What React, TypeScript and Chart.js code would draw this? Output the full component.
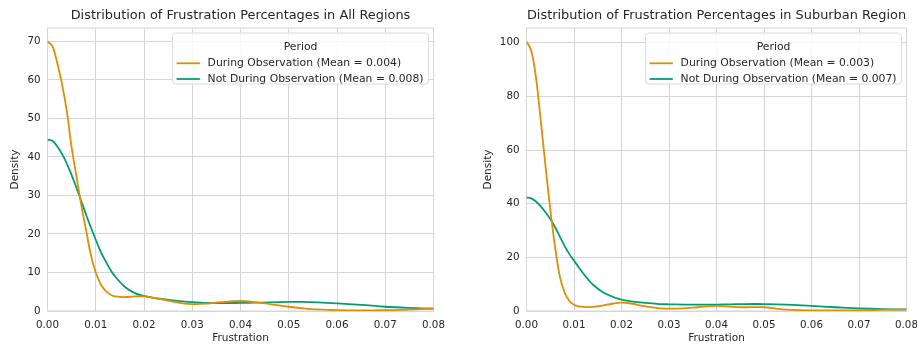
import React, { useEffect, useRef } from 'react';
import { Chart, registerables } from 'chart.js';

Chart.register(...registerables);

// ---- data ----
const FRUSTRATION = [
  0, 0.001, 0.002, 0.003, 0.004, 0.005, 0.006, 0.007, 0.008, 0.009, 0.010, 0.011, 0.012, 0.013, 0.014,
  0.016, 0.018, 0.020, 0.022, 0.025, 0.028, 0.030, 0.033, 0.036, 0.040, 0.043, 0.046, 0.050, 0.053,
  0.056, 0.060, 0.065, 0.070, 0.075, 0.080,
];

const ALL_DURING = [
  70, 68.8, 64.5, 59, 52, 42.5, 35, 27.5, 21, 14.5, 10, 7, 5.3, 4.3, 3.8,
  3.6, 3.8, 3.8, 3.4, 2.7, 2.0, 1.8, 1.9, 2.3, 2.6, 2.3, 1.8, 1.1, 0.7,
  0.4, 0.2, 0.15, 0.2, 0.35, 0.65,
];
const ALL_NOT_DURING = [
  44.5, 44.2, 42.8, 40.8, 38.3, 35.3, 32, 28.5, 25, 21.7, 18.5, 15.5, 13, 10.8, 9,
  6.3, 4.7, 3.9, 3.4, 2.9, 2.5, 2.3, 2.1, 2.05, 2.1, 2.15, 2.25, 2.35, 2.35,
  2.25, 2.0, 1.6, 1.1, 0.8, 0.6,
];
const SUB_DURING = [
  100.5, 97, 87, 71, 54, 38, 24, 13, 7, 3.8, 2.3, 1.7, 1.5, 1.45, 1.5,
  2.0, 2.7, 3.1, 2.8, 1.7, 1.0, 0.9, 1.0, 1.4, 1.9, 1.6, 1.4, 1.4, 0.8,
  0.4, 0.25, 0.2, 0.25, 0.4, 0.7,
];
const SUB_NOT_DURING = [
  42.3, 42, 40.8, 39, 36.8, 34.3, 31.3, 27.8, 24.3, 21.3, 18.8, 16.3, 13.9, 11.7, 9.8,
  7.1, 5.4, 4.2, 3.6, 3.0, 2.6, 2.5, 2.4, 2.35, 2.4, 2.5, 2.6, 2.6, 2.5,
  2.3, 1.9, 1.4, 1.0, 0.7, 0.5,
];

const ALL_LABELS = ['During Observation (Mean = 0.004)', 'Not During Observation (Mean = 0.008)'];
const SUB_LABELS = ['During Observation (Mean = 0.003)', 'Not During Observation (Mean = 0.007)'];
const LEGEND_TITLE = 'Period';
const X_TICKS_MAX = 0.08;

const FONT = '"DejaVu Sans", sans-serif';
const TEXT = '#262626';
const GRID = '#d6d6d6';
const COLORS = ['#DE8F05', '#029E73'];

type PanelProps = {
  left: number;
  width: number;
  title: string;
  labels: string[];
  series: number[][];
  yMax: number;
  yStep: number;
  yAxisWidth: number;
  padRight: number;
  yTitlePad: number;
};

function Panel(p: PanelProps) {
  const ref = useRef<HTMLCanvasElement | null>(null);
  useEffect(() => {
    if (!ref.current) return;
    const framePlugin = {
      id: 'frame',
      beforeDatasetsDraw(chart: any) {
        const { ctx, chartArea: a } = chart;
        ctx.save();
        ctx.strokeStyle = GRID;
        ctx.lineWidth = 1;
        ctx.strokeRect(a.left, a.top, a.right - a.left, a.bottom - a.top);
        ctx.restore();
      },
    };
    const legendPlugin = {
      id: 'innerLegend',
      afterDatasetsDraw(chart: any) {
        const { ctx, chartArea: a } = chart;
        ctx.save();
        const size = 10.8;
        ctx.font = `${size}px ${FONT}`;
        const maxW = Math.max(...p.labels.map((l) => ctx.measureText(l).width));
        const w = 35 + maxW + 5;
        const h = 51;
        const x = a.right - 5 - w;
        const y = a.top + 5;
        ctx.beginPath();
        (ctx as any).roundRect(x, y, w, h, 3);
        ctx.fillStyle = 'rgba(255,255,255,0.85)';
        ctx.fill();
        ctx.strokeStyle = '#dcdcdc';
        ctx.lineWidth = 1;
        ctx.stroke();
        ctx.fillStyle = TEXT;
        ctx.textBaseline = 'middle';
        ctx.textAlign = 'center';
        ctx.fillText(LEGEND_TITLE, x + w / 2, y + 14);
        ctx.textAlign = 'left';
        p.labels.forEach((l, i) => {
          const ly = y + 30.3 + i * 15.7;
          ctx.strokeStyle = COLORS[i];
          ctx.lineWidth = 1.8;
          ctx.beginPath();
          ctx.moveTo(x + 4, ly);
          ctx.lineTo(x + 27.3, ly);
          ctx.stroke();
          ctx.fillStyle = TEXT;
          ctx.fillText(l, x + 35, ly);
        });
        ctx.restore();
      },
    };
    const tickFont = { family: FONT, size: 10.3 };
    const labelFont = { family: FONT, size: 10.5 };
    const chart = new Chart(ref.current, {
      type: 'line',
      data: {
        datasets: p.series.map((s, i) => ({
          label: p.labels[i],
          data: FRUSTRATION.map((xv, j) => ({ x: xv, y: s[j] })),
          borderColor: COLORS[i],
          backgroundColor: COLORS[i],
          borderWidth: 1.8,
          pointRadius: 0,
          tension: 0.35,
          fill: false,
        })),
      },
      options: {
        responsive: false,
        animation: false,
        devicePixelRatio: 1,
        layout: { padding: { left: 0, right: p.padRight, top: 0, bottom: 0 } },
        plugins: {
          legend: { display: false },
          tooltip: { enabled: false },
          title: {
            display: true,
            fullSize: false,
            text: p.title,
            color: TEXT,
            font: { family: FONT, size: 12.9, weight: 'normal' as any },
            padding: { top: 8, bottom: 4.52 },
          },
        },
        scales: {
          x: {
            type: 'linear',
            min: 0,
            max: X_TICKS_MAX,
            grid: { color: GRID, drawTicks: false, lineWidth: 1 },
            border: { display: false },
            ticks: {
              stepSize: 0.01,
              autoSkip: false,
              maxRotation: 0,
              padding: 8,
              color: TEXT,
              font: tickFont,
              callback: (v: any) => Number(v).toFixed(2),
            },
            title: { display: true, text: 'Frustration', color: TEXT, font: labelFont, padding: { top: 0, bottom: 0 } },
            afterFit: (s: any) => {
              s.height = 34;
              s.paddingLeft = 0;
              s.paddingRight = 0;
            },
          },
          y: {
            type: 'linear',
            min: 0,
            max: p.yMax,
            grid: { color: GRID, drawTicks: false, lineWidth: 1 },
            border: { display: false },
            ticks: {
              stepSize: p.yStep,
              includeBounds: false,
              padding: 7,
              color: TEXT,
              font: tickFont,
            },
            title: { display: true, text: 'Density', color: TEXT, font: labelFont, padding: { top: p.yTitlePad, bottom: 0 } },
            afterFit: (s: any) => {
              s.width = p.yAxisWidth;
              s.paddingTop = 0;
              s.paddingBottom = 0;
            },
          },
        },
      },
      plugins: [framePlugin, legendPlugin],
    } as any);
    return () => chart.destroy();
  }, []);
  return (
    <canvas
      ref={ref}
      width={p.width}
      height={345}
      style={{ position: 'absolute', left: p.left, top: 0, width: p.width, height: 345 }}
    />
  );
}

export default function App() {
  return (
    <div style={{ position: 'absolute', left: 0, top: 0, width: 917, height: 345, background: '#fff', overflow: 'hidden' }}>
      <Panel
        left={0}
        width={458}
        title="Distribution of Frustration Percentages in All Regions"
        labels={ALL_LABELS}
        series={[ALL_DURING, ALL_NOT_DURING]}
        yMax={73.5}
        yStep={10}
        yAxisWidth={47.5}
        padRight={24.5}
        yTitlePad={9.4}
      />
      <Panel
        left={458}
        width={459}
        title="Distribution of Frustration Percentages in Suburban Region"
        labels={SUB_LABELS}
        series={[SUB_DURING, SUB_NOT_DURING]}
        yMax={105.5}
        yStep={20}
        yAxisWidth={68.5}
        padRight={10.5}
        yTitlePad={24.4}
      />
    </div>
  );
}
